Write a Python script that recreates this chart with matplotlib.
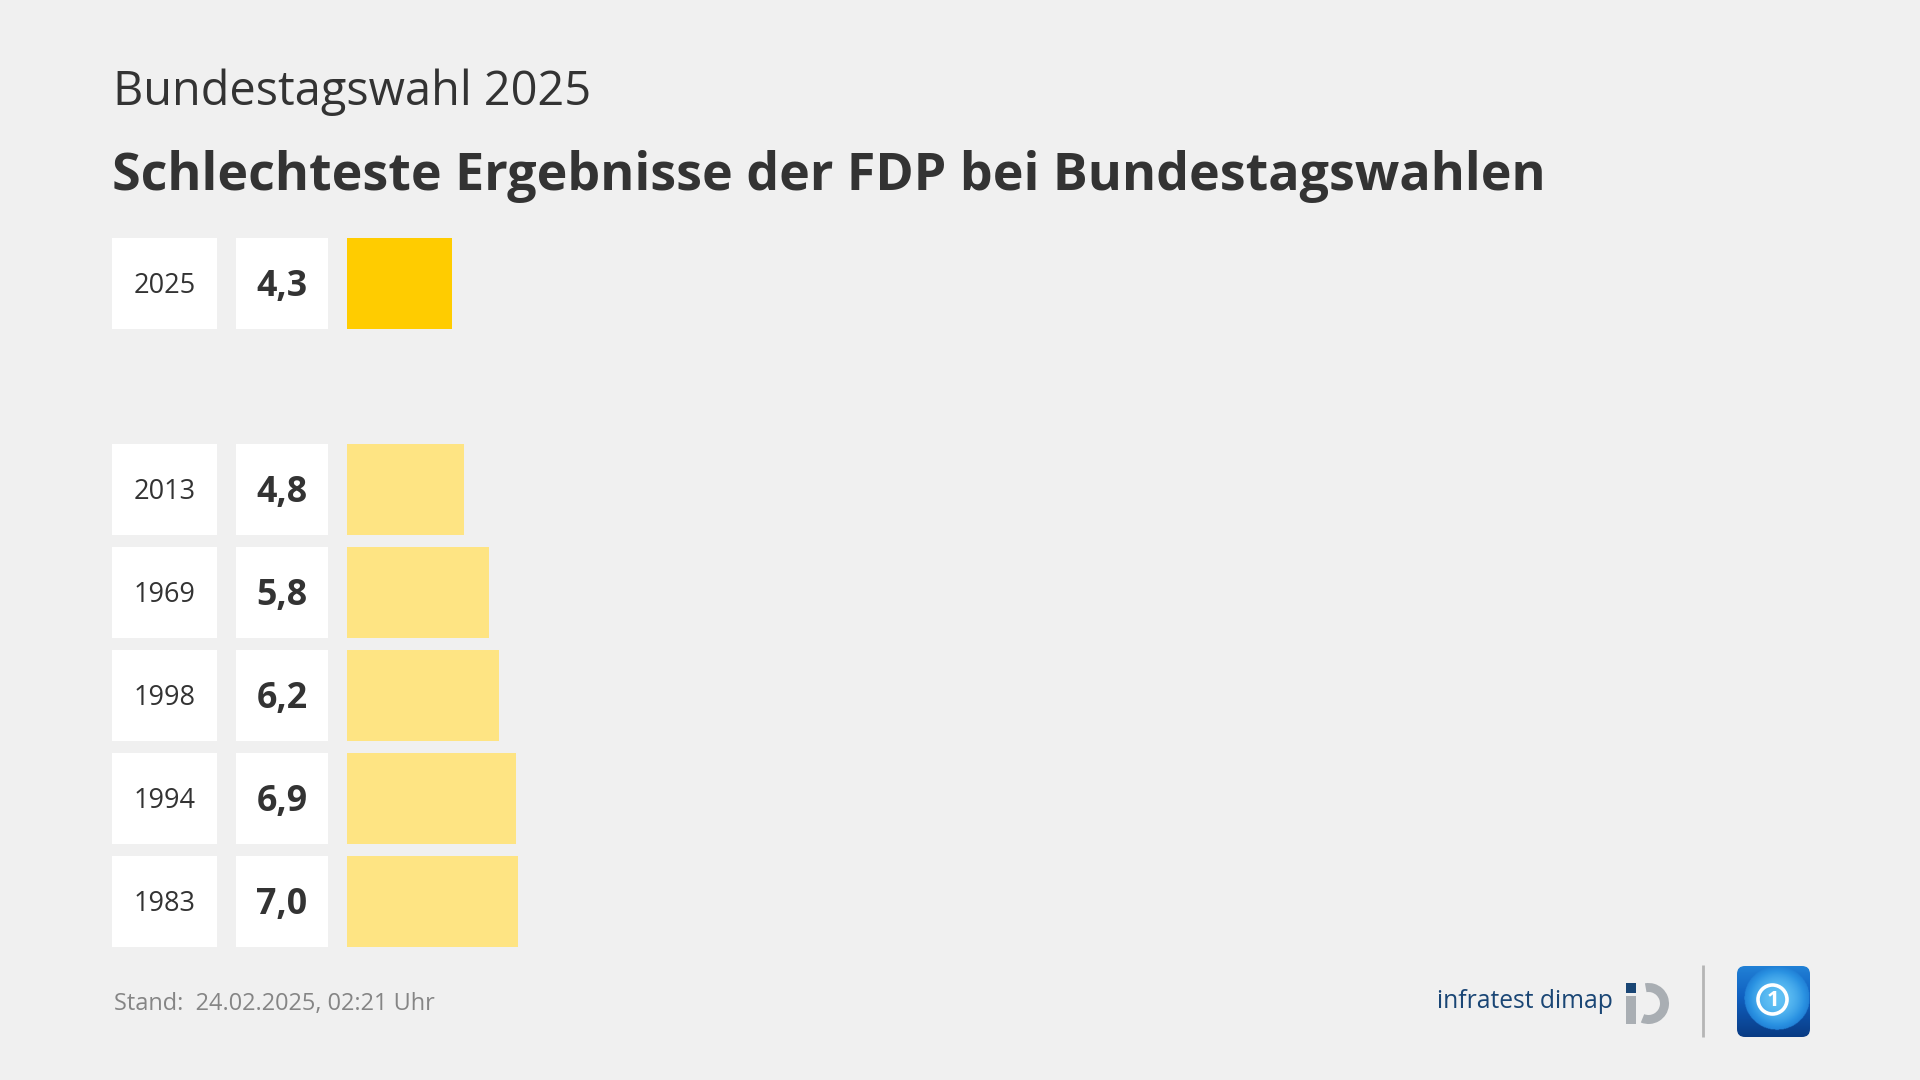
import matplotlib
matplotlib.use('Agg')
import matplotlib.pyplot as plt
from matplotlib.patches import Rectangle, FancyBboxPatch, Circle, Wedge
from matplotlib.colors import LinearSegmentedColormap
import matplotlib.transforms as mtransforms
import numpy as np

# ---- data ----
years = ['2025', '2013', '1969', '1998', '1994', '1983']
values = [4.3, 4.8, 5.8, 6.2, 6.9, 7.0]
subtitle = 'Bundestagswahl 2025'
title = 'Schlechteste Ergebnisse der FDP bei Bundestagswahlen'
footer = 'Stand:  24.02.2025, 02:21 Uhr'
source = 'infratest dimap'

# ---- style ----
W, H = 1920, 1080
BG = '#f0f0f0'
TXT = '#333333'
HIGHLIGHT = '#ffcc00'
OTHER = '#fee483'
FONT = ['Open Sans', 'DejaVu Sans']

plt.rcParams['font.family'] = FONT

fig = plt.figure(figsize=(19.2, 10.8), dpi=100, facecolor=BG)
renderer = fig.canvas.get_renderer()


def fx(x):
    return x / W


def fy(y):
    return 1 - y / H


def fit_size(s, target_px, **kw):
    t = fig.text(0, 0, s, fontsize=20, **kw)
    w = t.get_window_extent(renderer).width
    t.remove()
    return 20 * target_px / w


# layout (pixels)
pitch = 103.0
bar_px = 91.0
first_center = 283.5
px_per_unit = 24.5
ax_left = 346.7
ax_w = 1000.0

n_slots = 7
ax_top = first_center - pitch / 2
ax_bot = first_center + pitch * (n_slots - 1) + pitch / 2

ax = fig.add_axes([fx(ax_left), fy(ax_bot), ax_w / W, (ax_bot - ax_top) / H])
ax.set_facecolor('none')
ax.axis('off')

ypos = [i + (1 if i > 0 else 0) for i in range(len(years))]
colors = [HIGHLIGHT if i == 0 else OTHER for i in range(len(years))]
bh = bar_px / pitch

ax.barh(ypos, values, height=bh, color=colors, left=0, linewidth=0)

trans = mtransforms.blended_transform_factory(fig.transFigure, ax.transData)

year_fs = fit_size('2025', 62)
val_fs = fit_size('4,3', 51, fontweight='bold')
cap = 0.714


def base_off(fs):
    return fs * 100 / 72 * cap / 2 / pitch


for y, yr, v in zip(ypos, years, values):
    ax.add_patch(Rectangle((fx(112), y - bh / 2), 105 / W, bh, transform=trans,
                           facecolor='white', edgecolor='none', clip_on=False))
    ax.add_patch(Rectangle((fx(236), y - bh / 2), 92 / W, bh, transform=trans,
                           facecolor='white', edgecolor='none', clip_on=False))
    ax.text(fx(164.5), y + base_off(year_fs), yr, transform=trans, ha='center',
            va='baseline', fontsize=year_fs, color=TXT)
    ax.text(fx(282), y + base_off(val_fs), f'{v:.1f}'.replace('.', ','),
            transform=trans, ha='center', va='baseline', fontsize=val_fs,
            fontweight='bold', color=TXT)

ax.set_xlim(0, ax_w / px_per_unit)
ax.set_ylim(n_slots - 0.5, -0.5)

# ---- titles ----
fig.text(fx(113), fy(105), subtitle, fontsize=fit_size(subtitle, 477),
         color=TXT, va='baseline')
fig.text(fx(112), fy(190), title, fontsize=fit_size(title, 1434, fontweight='bold'),
         fontweight='bold', color=TXT, va='baseline')
fig.text(fx(113.5), fy(1010), footer, fontsize=fit_size(footer, 320),
         color='#858585', va='baseline')

# ---- logos (decoration) ----
lax = fig.add_axes([0, 0, 1, 1])
lax.set_facecolor('none')
lax.axis('off')

lax.text(1437, 1008, source, fontsize=fit_size(source, 175), color='#1a4675',
         va='baseline')
# infratest icon
lax.add_patch(Rectangle((1626, 983), 9.5, 9.5, facecolor='#1a4675', edgecolor='none'))
lax.add_patch(Rectangle((1626, 995.5), 9.5, 28.5, facecolor='#a9aeb3', edgecolor='none'))
lax.add_patch(Wedge((1648.5, 1003.5), 20.5, -100, 112, width=9,
                    facecolor='#a9aeb3', edgecolor='none'))

# separator
lax.plot([1702.7, 1702.7], [965, 1037], color='#b5b5b5', lw=2, solid_capstyle='butt')

# tagesschau icon
x0, x1, y0, y1 = 1737, 1810, 966, 1037
box = FancyBboxPatch((x0, y0), x1 - x0, y1 - y0, boxstyle='round,pad=0,rounding_size=8',
                     facecolor='none', edgecolor='none')
lax.add_patch(box)
gx, gy = np.meshgrid(np.linspace(0, 1, 120), np.linspace(0, 1, 120))
base = 0.45 + 0.5 * gy
rg = np.sqrt((gx - 0.55) ** 2 + (gy - 0.45) ** 2) / 0.45
glob = np.where(rg < 1, 0.05 + 0.4 * rg ** 2, base)
cmap = LinearSegmentedColormap.from_list('ts', ['#6ccaf8', '#2a92e2', '#1060c0', '#08357a'])
im = lax.imshow(glob, extent=[x0, x1, y1, y0], cmap=cmap, vmin=0, vmax=1,
                interpolation='bilinear', aspect='auto', origin='upper')
im.set_clip_path(box)
lax.add_patch(Circle((1772.5, 999.5), 14.5, fill=False, edgecolor='white', lw=2.6))
lax.text(1773, 1000.5, '1', fontsize=16, fontweight='bold', color='white',
         ha='center', va='center')
lax.set_xlim(0, W)
lax.set_ylim(H, 0)

fig.savefig('out.png', dpi=100, facecolor=BG)
